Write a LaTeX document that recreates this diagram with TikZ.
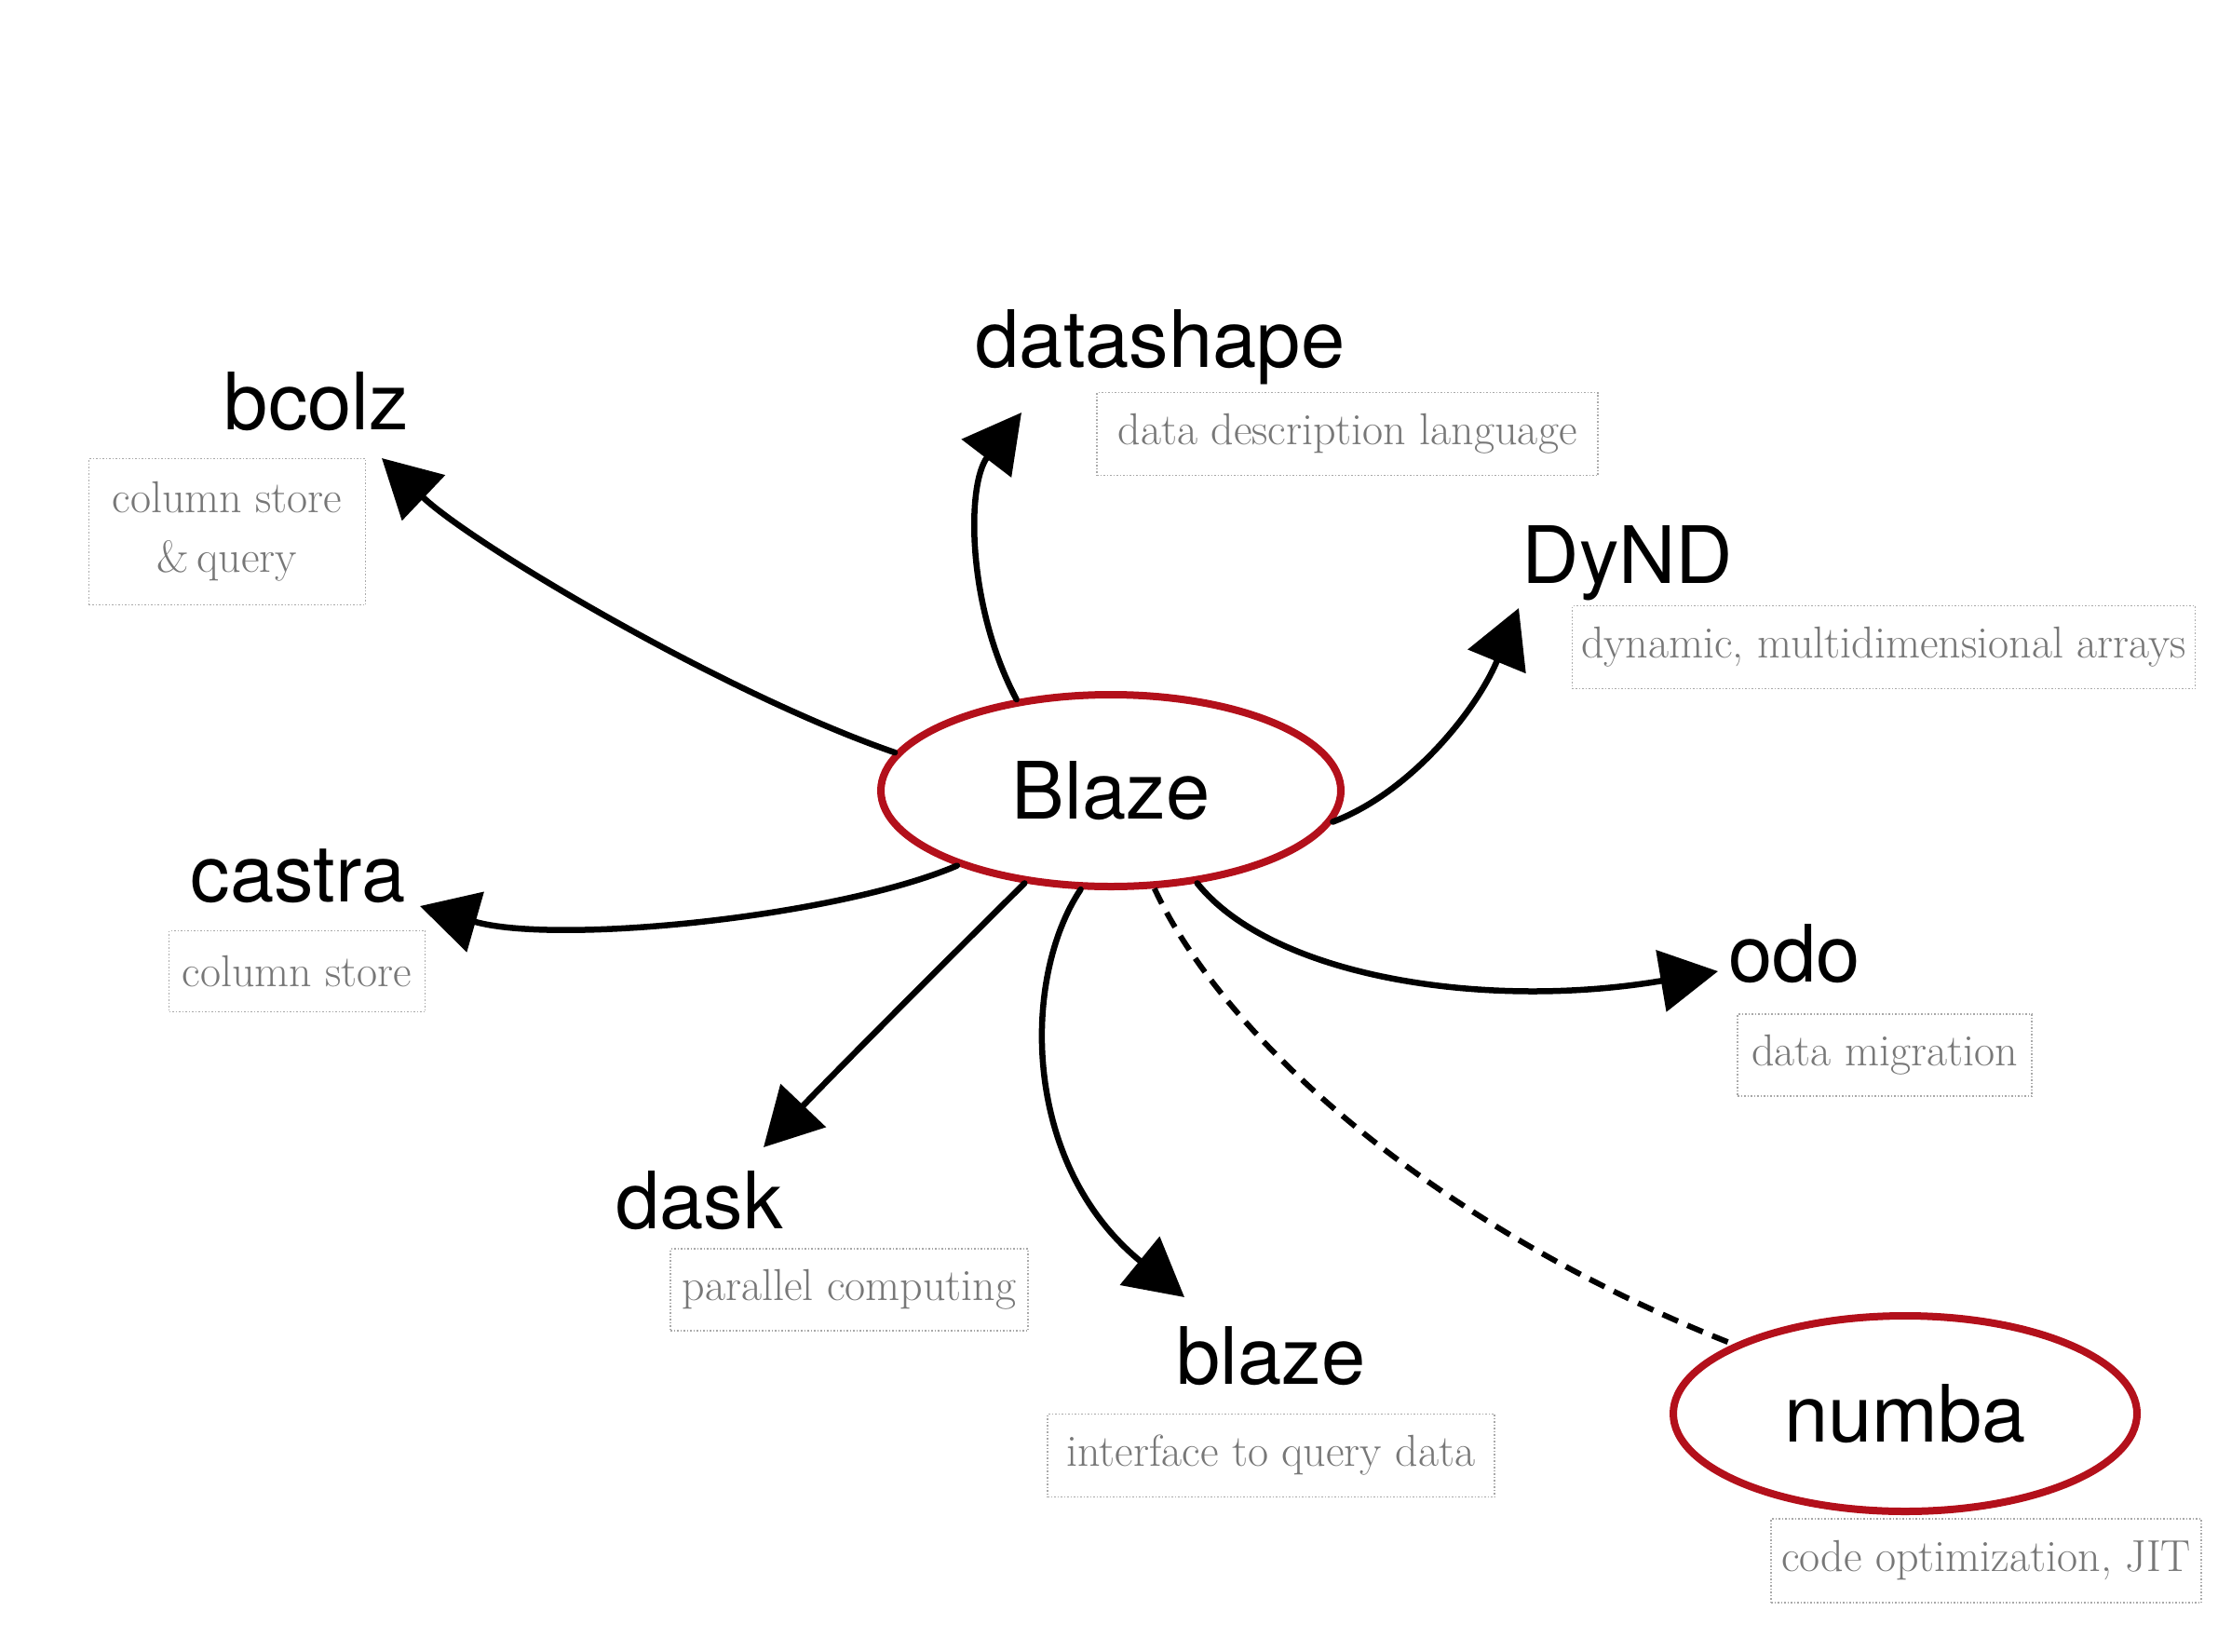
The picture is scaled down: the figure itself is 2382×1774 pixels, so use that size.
\documentclass[tikz,border=0pt]{standalone}
\usepackage{fontspec}
\newfontfamily\headfont{TeX Gyre Heros}
\usetikzlibrary{arrows.meta,shapes.geometric}
\definecolor{blzred}{HTML}{B3101B}
\definecolor{subgray}{HTML}{777777}
\definecolor{boxgray}{HTML}{A8A8A8}
\begin{document}
\begin{tikzpicture}[x=1pt,y=-1pt,
 title/.style={font=\headfont\fontsize{85}{90}\selectfont, inner sep=0pt, anchor=base},
 sub/.style={font=\rmfamily\fontsize{48}{64}\selectfont, text=subgray, draw=boxgray, dotted, line width=1.5pt, inner sep=0pt, align=center},
 hub/.style={ellipse, draw=blzred, line width=8pt, inner sep=0pt, font=\headfont\fontsize{85}{90}\selectfont},
 link/.style={line width=6.5pt, line cap=round, -{Triangle[length=62pt,width=66pt]}},
 sketch/.style={line width=2pt, black!80},
 weak/.style={line width=6pt, dash pattern=on 18pt off 11pt}]
\useasboundingbox (0,0) rectangle (2382,1774);

% hubs
\node[hub, minimum width=494pt, minimum height=206pt] (blz) at (1193,849) {Blaze};
\node[hub, minimum width=498pt, minimum height=210pt] (nmb) at (2046,1518) {numba};

% titles
\node[title] (bcolz) at (340,461) {bcolz};
\node[title] (dshape) at (1246,394) {datashape};
\node[title] (dynd) at (1748,626) {DyND};
\node[title] (castra) at (320,968) {castra};
\node[title] (odo) at (1927,1054) {odo};
\node[title] (dask) at (751,1319) {dask};
\node[title] (blazelib) at (1365,1486) {blaze};

% subtitle boxes
\node[sub, minimum width=297pt, minimum height=157pt] (bcolzS) at (244,571) {column store\\\&\,query};
\node[sub, minimum width=538pt, minimum height=89pt] (dshapeS) at (1447,466) {data description language};
\node[sub, minimum width=669pt, minimum height=89pt] (dyndS) at (2023,695) {dynamic, multidimensional arrays};
\node[sub, minimum width=275pt, minimum height=87pt] (castraS) at (319,1043) {column store};
\node[sub, minimum width=316pt, minimum height=88pt] (odoS) at (2024,1133) {data migration};
\node[sub, minimum width=384pt, minimum height=88pt] (daskS) at (912,1385) {parallel computing};
\node[sub, minimum width=480pt, minimum height=89pt] (blazeS) at (1365,1563) {interface to query data};
\node[sub, minimum width=462pt, minimum height=90pt] (nmbS) at (2133,1676) {code optimization, JIT};

% arrow tips
\coordinate (tBcolz) at (410,492);
\coordinate (tDshape) at (1097,443);
\coordinate (tDynd) at (1631,653);
\coordinate (tCastra) at (451,973);
\coordinate (tDask) at (820,1232);
\coordinate (tBlaze) at (1272,1393);
\coordinate (tOdo) at (1845,1043);

% connectors
\draw[link] (blz.170) .. controls (778,745) and (508,585) .. (tBcolz);
\draw[link] (blz.136) .. controls (1038,650) and (1038,520) .. (tDshape);
\draw[link] (blz.-8) .. controls (1517,850) and (1587,760) .. (tDynd);
\draw[link] (blz.206) .. controls (898,985) and (598,1015) .. (tCastra);
\draw[link] (blz.227) .. controls (1008,1040) and (898,1150) .. (tDask);
\draw[link] (blz.253) .. controls (1097,1050) and (1097,1250) .. (tBlaze);
\draw[link] (blz.313) .. controls (1367,1050) and (1597,1085) .. (tOdo);
\draw[weak] (blz.294) .. controls (1317,1120) and (1547,1320) .. (nmb.158);
\end{tikzpicture}
\end{document}
